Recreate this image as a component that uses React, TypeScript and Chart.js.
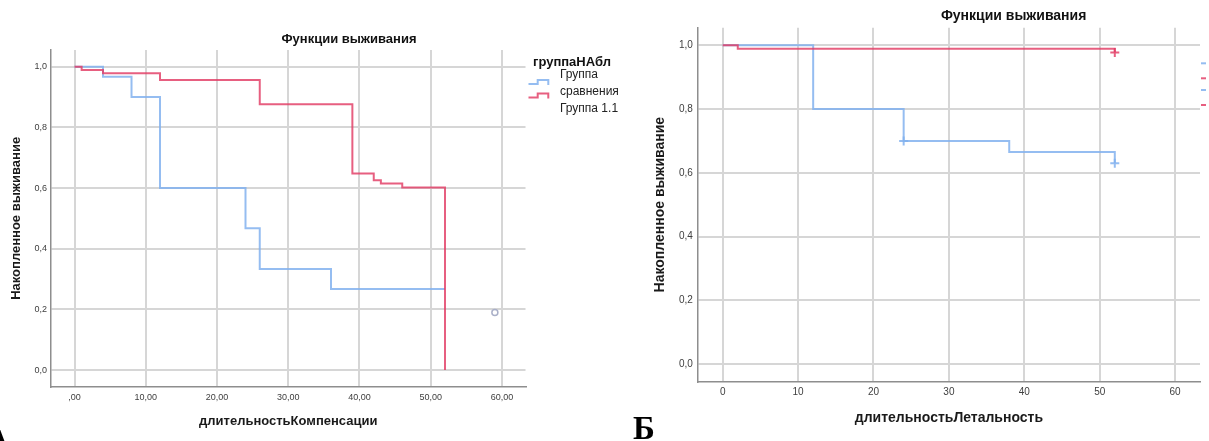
import React, { useEffect, useRef } from "react";
import { Chart, registerables } from "chart.js";

Chart.register(...registerables);

const FONT = '"Liberation Sans", Arial, Helvetica, sans-serif';

// ---- text ----
const chartTitle = "Функции выживания";
const yAxisTitle = "Накопленное выживание";
const leftXTitle = "длительностьКомпенсации";
const rightXTitle = "длительностьЛетальность";
const legendTitle = "группаНАбл";
const legendLines = ["Группа", "сравнения", "Группа 1.1"];
const panelLetters = ["А", "Б"];

// ---- ticks ----
const xTicks = [0, 10, 20, 30, 40, 50, 60];
const yTicks = [0, 0.2, 0.4, 0.6, 0.8, 1.0];

// ---- left panel (А): длительностьКомпенсации ----
const leftCompTimes = [0, 4, 8, 12, 24, 26, 36, 52];
const leftCompSurv = [1, 0.967, 0.9, 0.6, 0.467, 0.333, 0.267, 0.267];
const leftG11Times = [0, 1, 4, 12, 26, 39, 42, 43, 46, 52];
const leftG11Surv = [1, 0.989, 0.978, 0.956, 0.876, 0.648, 0.626, 0.615, 0.602, 0];
const leftOutlierTimes = [59];
const leftOutlierSurv = [0.19];

// ---- right panel (Б): длительностьЛетальность ----
const rightCompTimes = [0, 12, 24, 38, 52];
const rightCompSurv = [1, 0.8, 0.7, 0.665, 0.63];
const rightCompCensorTimes = [24, 52];
const rightCompCensorSurv = [0.7, 0.63];
const rightG11Times = [0, 2, 52];
const rightG11Surv = [1, 0.989, 0.977];
const rightG11CensorTimes = [52];
const rightG11CensorSurv = [0.977];

const BLUE = "rgba(130,178,238,0.85)";
const RED = "rgba(226,60,100,0.82)";

const pts = (xs: number[], ys: number[]) => xs.map((x, i) => ({ x, y: ys[i] }));

type PanelSpec = {
  width: number;
  left: number;
  area: { left: number; right: number; top: number; bottom: number };
  xTitle: string;
  xFmt: (v: number) => string;
  tickSize: number;
  titleSize: number;
  xTickPad: number;
  yTickPad: number;
  yTitlePad: number;
  xTitlePad: number;
  datasets: any[];
  overlay: (ctx: CanvasRenderingContext2D) => void;
};

function buildConfig(p: PanelSpec): any {
  const H = 441;
  return {
    type: "scatter",
    data: { datasets: p.datasets },
    options: {
      animation: false,
      responsive: false,
      maintainAspectRatio: false,
      events: [],
      layout: { padding: { left: 0, top: p.area.top, right: p.width - p.area.right, bottom: 0 } },
      plugins: { legend: { display: false }, title: { display: false }, tooltip: { enabled: false } },
      scales: {
        x: {
          type: "linear",
          min: -3.3,
          max: 63.3,
          afterBuildTicks: (s: any) => {
            s.ticks = xTicks.map((v) => ({ value: v }));
          },
          afterFit: (s: any) => {
            s.height = H - p.area.bottom;
          },
          grid: { color: "#d6d6d6", lineWidth: 2, drawTicks: false },
          border: { display: true, color: "#8e8e8e", width: 1.5 },
          ticks: {
            padding: p.xTickPad,
            autoSkip: false,
            maxRotation: 0,
            color: "#404040",
            font: { family: FONT, size: p.tickSize },
            callback: (v: any) => p.xFmt(Number(v)),
          },
          title: {
            display: true,
            text: p.xTitle,
            color: "#1a1a1a",
            font: { family: FONT, size: p.titleSize, weight: "bold" },
            padding: { top: 0, bottom: p.xTitlePad },
          },
        },
        y: {
          type: "linear",
          min: -0.055,
          max: 1.055,
          afterBuildTicks: (s: any) => {
            s.ticks = yTicks.map((v) => ({ value: v }));
          },
          afterFit: (s: any) => {
            s.width = p.area.left;
          },
          grid: { color: "#d6d6d6", lineWidth: 2, drawTicks: false },
          border: { display: true, color: "#8e8e8e", width: 1.5 },
          ticks: {
            padding: p.yTickPad,
            color: "#404040",
            font: { family: FONT, size: p.tickSize },
            callback: (v: any) => Number(v).toFixed(1).replace(".", ","),
          },
          title: {
            display: true,
            text: yAxisTitle,
            color: "#1a1a1a",
            font: { family: FONT, size: p.titleSize, weight: "bold" },
            padding: { top: p.yTitlePad, bottom: 0 },
          },
        },
      },
    },
    plugins: [
      {
        id: "overlay",
        afterDraw(chart: any) {
          const ctx = chart.ctx as CanvasRenderingContext2D;
          ctx.save();
          p.overlay(ctx);
          ctx.restore();
        },
      },
    ],
  };
}

const stepLine = (data: any[], color: string) => ({
  data,
  showLine: true,
  stepped: "before",
  borderColor: color,
  backgroundColor: color,
  borderWidth: 2,
  pointRadius: 0,
  fill: false,
});

const censor = (data: any[], color: string) => ({
  data,
  showLine: false,
  pointStyle: "cross",
  pointRadius: 4.5,
  borderColor: color,
  backgroundColor: color,
  pointBorderWidth: 2,
});

const leftSpec: PanelSpec = {
  width: 630,
  left: 0,
  area: { left: 51, right: 525.5, top: 50, bottom: 386.7 },
  xTitle: leftXTitle,
  xFmt: (v) => (v === 0 ? ",00" : v.toFixed(2).replace(".", ",")),
  tickSize: 9,
  titleSize: 13,
  xTickPad: 5.5,
  yTickPad: 4,
  yTitlePad: 9,
  xTitlePad: 11.5,
  datasets: [
    stepLine(pts(leftG11Times, leftG11Surv), RED),
    stepLine(pts(leftCompTimes, leftCompSurv), BLUE),
    {
      data: pts(leftOutlierTimes, leftOutlierSurv),
      showLine: false,
      pointStyle: "circle",
      pointRadius: 3,
      borderColor: "#aab0c8",
      backgroundColor: "rgba(255,255,255,0)",
      pointBorderWidth: 1.5,
    },
  ],
  overlay: (ctx) => {
    ctx.fillStyle = "#111";
    ctx.textBaseline = "middle";
    ctx.textAlign = "center";
    ctx.font = `bold 13px ${FONT}`;
    ctx.fillText(chartTitle, 349, 39);
    ctx.textAlign = "left";
    ctx.fillText(legendTitle, 533, 62.7);
    ctx.font = `12px ${FONT}`;
    ctx.fillStyle = "#222";
    ctx.fillText(legendLines[0], 560, 75);
    ctx.fillText(legendLines[1], 560, 91.7);
    ctx.fillText(legendLines[2], 560, 108.3);
    const sym = (y: number, color: string) => {
      ctx.strokeStyle = color;
      ctx.lineWidth = 2;
      ctx.beginPath();
      ctx.moveTo(528.5, y + 4);
      ctx.lineTo(537.7, y + 4);
      ctx.lineTo(537.7, y);
      ctx.lineTo(548.3, y);
      ctx.lineTo(548.3, y + 5);
      ctx.stroke();
    };
    sym(80, BLUE);
    sym(93.5, RED);
  },
};

const rightSpec: PanelSpec = {
  width: 579,
  left: 630,
  area: { left: 67.8, right: 570, top: 27.7, bottom: 381.7 },
  xTitle: rightXTitle,
  xFmt: (v) => String(v),
  tickSize: 10,
  titleSize: 14,
  xTickPad: 5,
  yTickPad: 5,
  yTitlePad: 22,
  xTitlePad: 14,
  datasets: [
    stepLine(pts(rightG11Times, rightG11Surv), RED),
    censor(pts(rightG11CensorTimes, rightG11CensorSurv), RED),
    stepLine(pts(rightCompTimes, rightCompSurv), BLUE),
    censor(pts(rightCompCensorTimes, rightCompCensorSurv), BLUE),
  ],
  overlay: (ctx) => {
    ctx.fillStyle = "#111";
    ctx.textBaseline = "middle";
    ctx.textAlign = "center";
    ctx.font = `bold 14px ${FONT}`;
    ctx.fillText(chartTitle, 383.6, 16);
    const marks: [number, string][] = [
      [63.3, BLUE],
      [78.3, RED],
      [90, BLUE],
      [105, RED],
    ];
    marks.forEach(([y, c]) => {
      ctx.fillStyle = c;
      ctx.fillRect(571, y - 1, 5, 2);
    });
  },
};

function Panel({ spec }: { spec: PanelSpec }) {
  const ref = useRef<HTMLCanvasElement | null>(null);
  useEffect(() => {
    if (!ref.current) return;
    const chart = new Chart(ref.current, buildConfig(spec));
    return () => chart.destroy();
  }, [spec]);
  return (
    <canvas
      ref={ref}
      width={spec.width}
      height={441}
      style={{ position: "absolute", left: spec.left, top: 0, width: spec.width, height: 441, display: "block" }}
    />
  );
}

export default function App() {
  const letterStyle: React.CSSProperties = {
    position: "absolute",
    fontFamily: '"Liberation Serif", "Times New Roman", serif',
    fontWeight: "bold",
    fontSize: 33,
    lineHeight: 1,
    color: "#000",
  };
  return (
    <div
      style={{
        position: "fixed",
        left: 0,
        top: 0,
        width: 1209,
        height: 441,
        overflow: "hidden",
        background: "#fff",
      }}
    >
      <Panel spec={leftSpec} />
      <Panel spec={rightSpec} />
      <div style={{ ...letterStyle, left: -14, top: 425 }}>{panelLetters[0]}</div>
      <div style={{ ...letterStyle, left: 633, top: 412 }}>{panelLetters[1]}</div>
    </div>
  );
}
